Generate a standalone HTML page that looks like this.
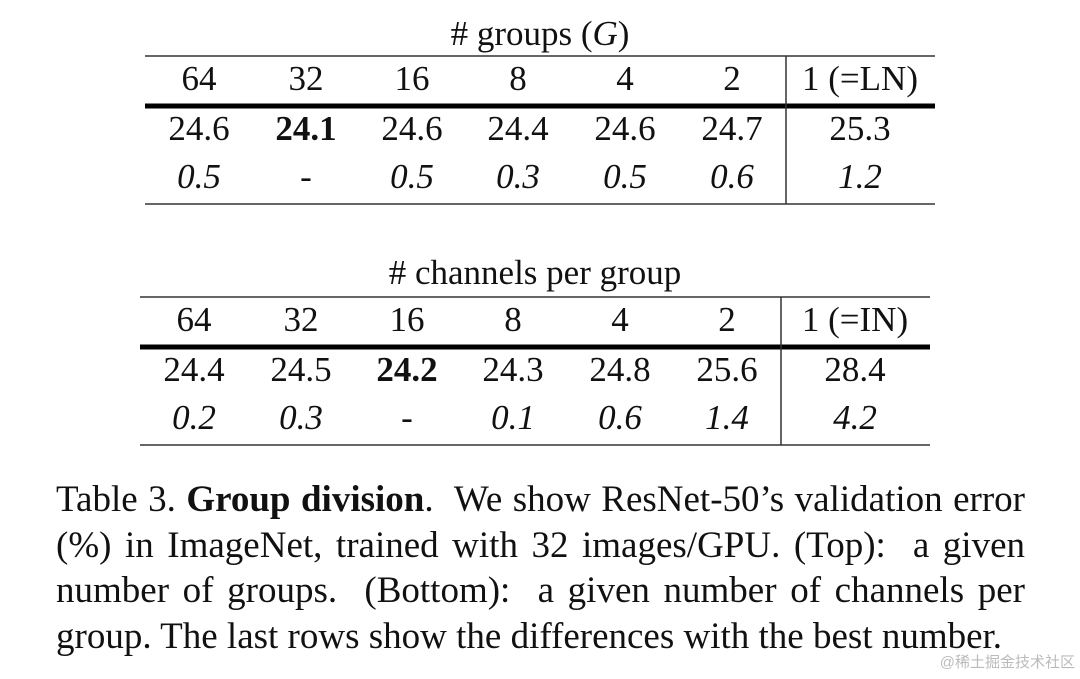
<!DOCTYPE html>
<html><head><meta charset="utf-8"><style>
html,body{margin:0;padding:0;background:#fff;}
svg{display:block;position:absolute;left:0;top:0;}
text{font-family:"Liberation Serif",serif;fill:#111;}
.cap{position:absolute;left:56px;width:969px;font-family:"Liberation Serif",serif;font-size:37px;line-height:46px;color:#111;white-space:nowrap;}
.j{text-align:justify;text-align-last:justify;}
</style></head><body>
<svg width="1080" height="679" viewBox="0 0 1080 679">
<g font-size="35" text-anchor="middle">
<text x="540" y="45"># groups (<tspan font-style="italic">G</tspan>)</text>
<line x1="145" y1="56" x2="935" y2="56" stroke="#333" stroke-width="1.5"/>
<text x="199" y="90">64</text><text x="306" y="90">32</text><text x="412" y="90">16</text><text x="518" y="90">8</text><text x="625" y="90">4</text><text x="732" y="90">2</text><text x="860" y="90">1 (=LN)</text>
<line x1="145" y1="106" x2="935" y2="106" stroke="#000" stroke-width="5"/>
<text x="199" y="140">24.6</text><text x="306" y="140" font-weight="bold">24.1</text><text x="412" y="140">24.6</text><text x="518" y="140">24.4</text><text x="625" y="140">24.6</text><text x="732" y="140">24.7</text><text x="860" y="140">25.3</text>
<g font-style="italic"><text x="199" y="188">0.5</text><text x="306" y="188" font-style="normal">-</text><text x="412" y="188">0.5</text><text x="518" y="188">0.3</text><text x="625" y="188">0.5</text><text x="732" y="188">0.6</text><text x="860" y="188">1.2</text></g>
<line x1="145" y1="204" x2="935" y2="204" stroke="#333" stroke-width="1.5"/>
<line x1="786" y1="56" x2="786" y2="204" stroke="#333" stroke-width="1.5"/>

<text x="535" y="284"># channels per group</text>
<line x1="140" y1="297" x2="930" y2="297" stroke="#333" stroke-width="1.5"/>
<text x="194" y="331">64</text><text x="301" y="331">32</text><text x="407" y="331">16</text><text x="513" y="331">8</text><text x="620" y="331">4</text><text x="727" y="331">2</text><text x="855" y="331">1 (=IN)</text>
<line x1="140" y1="347" x2="930" y2="347" stroke="#000" stroke-width="5"/>
<text x="194" y="381">24.4</text><text x="301" y="381">24.5</text><text x="407" y="381" font-weight="bold">24.2</text><text x="513" y="381">24.3</text><text x="620" y="381">24.8</text><text x="727" y="381">25.6</text><text x="855" y="381">28.4</text>
<g font-style="italic"><text x="194" y="429">0.2</text><text x="301" y="429">0.3</text><text x="407" y="429" font-style="normal">-</text><text x="513" y="429">0.1</text><text x="620" y="429">0.6</text><text x="727" y="429">1.4</text><text x="855" y="429">4.2</text></g>
<line x1="140" y1="445" x2="930" y2="445" stroke="#333" stroke-width="1.5"/>
<line x1="781" y1="297" x2="781" y2="445" stroke="#333" stroke-width="1.5"/>
</g>
<text x="1075" y="667" font-size="15" text-anchor="end" style="font-family:'Liberation Sans','Noto Sans CJK SC',sans-serif;fill:#bbb">@稀土掘金技术社区</text>
</svg>
<div class="cap j" style="top:477px">Table 3. <b>Group division</b>.&nbsp; We show ResNet-50’s validation error</div>
<div class="cap j" style="top:523px">(%) in ImageNet, trained with 32 images/GPU. (Top):&nbsp; a given</div>
<div class="cap j" style="top:568px">number of groups.&nbsp; (Bottom):&nbsp; a given number of channels per</div>
<div class="cap" style="top:614px;width:auto">group. The last rows show the differences with the best number.</div>
</body></html>
